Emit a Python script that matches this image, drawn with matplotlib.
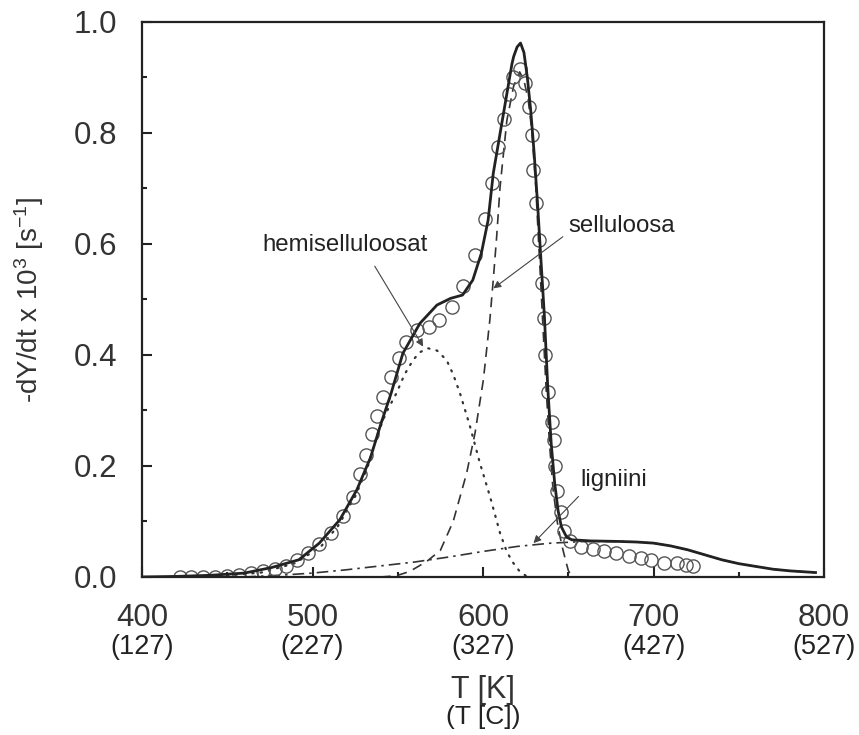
import matplotlib.pyplot as plt
from matplotlib.ticker import MultipleLocator
from matplotlib.transforms import blended_transform_factory

plt.rcParams['font.family'] = ['Liberation Sans', 'DejaVu Sans']
plt.rcParams['mathtext.default'] = 'regular'

# measured points (circles)
T_exp = [422, 429, 436, 443, 450, 457, 464, 471, 478, 484.5, 491, 497.5, 504, 511,
         518, 523.7, 527.6, 531.6, 535, 538, 541.5, 546.3, 550.8, 555.1, 561, 568.4,
         574.3, 581.6, 588.4, 595.3, 601.2, 605.1, 609, 612.4, 615.5, 617.8, 621.8,
         624.7, 626.7, 628.6, 629.6, 631.2, 633.1, 634.5, 635.9, 636.5, 638.4, 640.4,
         641.4, 642, 643.5, 645.5, 647.3, 651.2, 657.6, 664.5, 671.2, 678.2, 685.5,
         692.4, 698.6, 706.1, 713.5, 719, 723.3]
y_exp = [0.0, 0.0, 0.0, 0.0, 0.002, 0.004, 0.007, 0.010, 0.015, 0.02, 0.03, 0.043, 0.06, 0.08,
         0.11, 0.145, 0.185, 0.22, 0.258, 0.29, 0.325, 0.361, 0.394, 0.424, 0.445, 0.45,
         0.463, 0.487, 0.524, 0.58, 0.645, 0.71, 0.775, 0.825, 0.871, 0.901, 0.916,
         0.89, 0.847, 0.796, 0.733, 0.673, 0.607, 0.529, 0.466, 0.40, 0.334, 0.28,
         0.247, 0.2, 0.155, 0.117, 0.083, 0.065, 0.054, 0.05, 0.047, 0.043, 0.038,
         0.034, 0.031, 0.026, 0.025, 0.022, 0.02]

# model total
T_fit = [400, 420, 440, 460, 476, 492, 504, 516, 526, 534, 540, 546, 553, 563, 573, 581,
         588, 594, 599, 603, 606, 610, 614, 617, 618, 620, 622, 624, 626, 628, 630,
         632, 634, 636, 638, 640, 642, 644, 646, 649, 652, 663, 680, 690, 700, 710,
         720, 730, 740, 750, 760, 770, 780, 795]
y_fit = [0.0, 0.001, 0.003, 0.007, 0.017, 0.031, 0.061, 0.103, 0.157, 0.215, 0.275, 0.33,
         0.403, 0.457, 0.49, 0.502, 0.508, 0.535, 0.583, 0.643, 0.727, 0.799, 0.871,
         0.925, 0.938, 0.955, 0.962, 0.945, 0.9, 0.84, 0.763, 0.672, 0.57, 0.47, 0.34,
         0.24, 0.17, 0.12, 0.09, 0.072, 0.067, 0.065, 0.064, 0.063, 0.061, 0.056,
         0.049, 0.040, 0.031, 0.024, 0.019, 0.014, 0.011, 0.008]

# hemicellulose component
T_hemi = [440, 470, 490, 505, 515, 525, 532, 537.5, 543, 549.2, 554, 559, 563, 567.8,
          573, 578.6, 582.5, 586.5, 592.4, 598.2, 604.1, 610, 614, 617.8, 621.5, 625.7]
y_hemi = [0.0, 0.008, 0.025, 0.055, 0.092, 0.145, 0.195, 0.252, 0.295, 0.331, 0.365,
          0.391, 0.405, 0.412, 0.408, 0.391, 0.365, 0.331, 0.271, 0.205, 0.145, 0.079,
          0.045, 0.025, 0.01, 0.001]

# cellulose component
T_cell = [540, 549, 557, 567, 575, 582.5, 590.4, 595.3, 600.2, 604, 606, 608, 610, 614,
          618, 621.5, 624, 626.5, 628.6, 631, 633, 635, 637, 639, 641, 643.5, 646, 648,
          650, 652]
y_cell = [0.0, 0.002, 0.01, 0.028, 0.048, 0.1, 0.187, 0.259, 0.355, 0.463, 0.535, 0.613,
          0.703, 0.823, 0.885, 0.91, 0.895, 0.86, 0.805, 0.7, 0.58, 0.46, 0.34, 0.24,
          0.16, 0.1, 0.06, 0.035, 0.012, 0.0]

# lignin component
T_lig = [460, 480, 500, 520, 540, 560, 580, 600, 620, 640, 660, 680, 690, 700, 710, 720,
         730, 740, 750, 760, 770, 780, 795]
y_lig = [0.0, 0.003, 0.007, 0.013, 0.02, 0.027, 0.036, 0.046, 0.055, 0.061, 0.064, 0.064,
         0.063, 0.061, 0.056, 0.049, 0.040, 0.031, 0.024, 0.019, 0.014, 0.011, 0.008]

xticks_K = [400, 500, 600, 700, 800]
xticks_C = ['(127)', '(227)', '(327)', '(427)', '(527)']

fig = plt.figure(figsize=(8.59, 7.35), dpi=100)
ax = fig.add_axes([0.1653, 0.2150, 0.7940, 0.7551])

ax.plot(T_hemi, y_hemi, color='#333333', lw=1.6, linestyle=(0, (0.6, 3.2)),
        dash_capstyle='round')
ax.plot(T_cell, y_cell, color='#333333', lw=1.2, linestyle=(0, (6, 4)))
ax.plot(T_lig, y_lig, color='#333333', lw=1.2, linestyle=(0, (7, 3, 1.5, 3)))
ax.plot(T_exp, y_exp, linestyle='none', marker='o', markersize=9.5,
        markerfacecolor='none', markeredgecolor='#555555', markeredgewidth=1.0)
ax.plot(T_fit, y_fit, color='#222222', lw=2.0)

ax.set_xlim(400, 800)
ax.set_ylim(0, 1.0)
ax.xaxis.set_minor_locator(MultipleLocator(50))
ax.yaxis.set_minor_locator(MultipleLocator(0.1))
ax.set_yticks([0, 0.2, 0.4, 0.6, 0.8, 1.0])
ax.set_yticklabels(['0.0', '0.2', '0.4', '0.6', '0.8', '1.0'])
ax.set_xticks(xticks_K)
ax.set_xticklabels([str(v) for v in xticks_K])

ax.tick_params(which='both', direction='in', color='#222222', width=1.5,
               labelsize=22.5, labelcolor='#333333')
ax.tick_params(which='major', length=7)
ax.tick_params(which='minor', length=3.5)
ax.tick_params(axis='x', which='major', pad=19)
ax.tick_params(axis='y', which='major', pad=18)

for sp in ax.spines.values():
    sp.set_linewidth(1.6)
    sp.set_color('#222222')

trans = blended_transform_factory(ax.transData, ax.transAxes)
for xv, lab in zip(xticks_K, xticks_C):
    ax.text(xv, -0.127, lab, transform=trans, ha='center', va='center',
            fontsize=19.5, color='#222222')

ax.text(0.5, -0.203, 'T [K]', transform=ax.transAxes, ha='center', va='center',
        fontsize=22, color='#333333')
ax.text(0.5, -0.253, '(T [C])', transform=ax.transAxes, ha='center', va='center',
        fontsize=19, color='#222222')
ax.set_ylabel('-dY/dt x 10$^3$ [s$^{-1}$]', fontsize=20, color='#333333', labelpad=20)

arrow = dict(arrowstyle='-|>', color='#444444', lw=0.8, mutation_scale=11,
             shrinkA=0, shrinkB=0)
ax.annotate('', xy=(564.9, 0.415), xytext=(536.5, 0.560), arrowprops=arrow)
ax.text(470.5, 0.598, 'hemiselluloosat', fontsize=17.3, ha='left', va='center',
        color='#222222')
ax.annotate('', xy=(606.1, 0.520), xytext=(646.8, 0.613), arrowprops=arrow)
ax.text(650.2, 0.633, 'selluloosa', fontsize=17.3, ha='left', va='center',
        color='#222222')
ax.annotate('', xy=(629.6, 0.061), xytext=(656.0, 0.145), arrowprops=arrow)
ax.text(657.1, 0.175, 'ligniini', fontsize=17.3, ha='left', va='center',
        color='#222222')

plt.savefig('out.png', dpi=100)
